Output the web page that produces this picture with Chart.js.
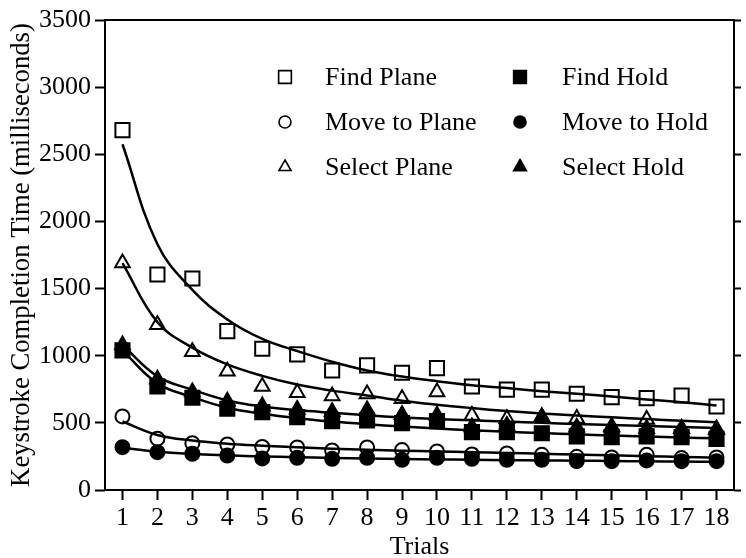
<!DOCTYPE html>
<html>
<head>
<meta charset="utf-8">
<script src="https://cdn.jsdelivr.net/npm/chart.js@4.4.1/dist/chart.umd.min.js"></script>
<style>
  html, body { margin: 0; padding: 0; background: #fff; }
  #wrap { width: 746px; height: 558px; position: relative; }
</style>
</head>
<body>
<div id="wrap"><canvas id="c" width="746" height="558"></canvas></div>
<script>
// Trial numbers along the x axis
const trials = ['1','2','3','4','5','6','7','8','9','10','11','12','13','14','15','16','17','18'];
const yTicks = [0, 500, 1000, 1500, 2000, 2500, 3000, 3500];

// Mean keystroke completion times (ms) per trial
const findPlane   = [2680, 1605, 1575, 1183, 1052, 1010, 890, 928, 873, 908, 771, 747, 747, 717, 692, 684, 704, 622];
const moveToPlane = [548, 382, 349, 339, 320, 317, 295, 317, 297, 287, 265, 272, 262, 247, 242, 262, 238, 242];
const selectPlane = [1690, 1230, 1030, 885, 770, 725, 700, 715, 680, 730, 555, 530, 543, 532, 472, 525, 458, 452];
const findHold    = [1040, 771, 687, 605, 580, 543, 513, 518, 498, 513, 431, 431, 423, 399, 394, 399, 394, 381];
const moveToHold  = [319, 282, 270, 257, 235, 240, 232, 240, 225, 240, 232, 225, 225, 215, 215, 220, 215, 215];
const selectHold  = [1080, 825, 730, 660, 625, 600, 583, 595, 560, 556, 470, 480, 543, 468, 468, 456, 456, 451];

// Fitted learning curves (ms) at each trial
const findPlaneFit   = [2575, 1830, 1490, 1270, 1125, 1035, 955, 890, 845, 810, 780, 759, 736, 717, 697, 674, 654, 630];
const selectPlaneFit = [1690, 1250, 1060, 935, 850, 785, 740, 704, 665, 635, 610, 588, 570, 555, 541, 528, 516, 505];
const selectHoldFit  = [1080, 846, 747, 667, 622, 595, 575, 556, 540, 528, 519, 510, 500, 492, 484, 476, 469, 462];
const findHoldFit    = [1040, 794, 692, 612, 568, 535, 510, 490, 473, 458, 445, 434, 424, 415, 406, 398, 391, 385];
const moveToPlaneFit = [510, 410, 368, 345, 330, 318, 308, 300, 293, 287, 282, 276, 270, 264, 258, 252, 246, 240];
const moveToHoldFit  = [315, 285, 268, 258, 250, 244, 239, 235, 231, 228, 225, 222, 220, 218, 216, 214, 212, 210];

const FONT = 'Liberation Serif, Times New Roman, serif';
const FSIZE = 26;

const markers = {
  findPlane:   { style: 'rect',     radius: 10,  legendRadius: 9,   filled: false },
  moveToPlane: { style: 'circle',   radius: 7,   legendRadius: 6,   filled: false },
  selectPlane: { style: 'triangle', radius: 8.5, legendRadius: 7,   filled: false },
  findHold:    { style: 'rect',     radius: 10,  legendRadius: 9,   filled: true },
  moveToHold:  { style: 'circle',   radius: 7,   legendRadius: 6,   filled: true },
  selectHold:  { style: 'triangle', radius: 8.5, legendRadius: 7.5, filled: true }
};

function pointSet(label, data, key) {
  const m = markers[key];
  return {
    label, data, key,
    showLine: false,
    pointStyle: m.style,
    pointRadius: m.radius,
    pointBorderWidth: 2,
    pointBorderColor: '#000',
    pointBackgroundColor: m.filled ? '#000' : 'rgba(0,0,0,0)',
    borderColor: '#000',
    backgroundColor: m.filled ? '#000' : 'rgba(0,0,0,0)'
  };
}
function fitSet(data) {
  return {
    label: '', data,
    borderColor: '#000',
    borderWidth: 2.5,
    pointRadius: 0,
    fill: false,
    tension: 0.4
  };
}

// Earlier datasets are painted last, so filled markers come first
const datasets = [
  pointSet('Find Hold', findHold, 'findHold'),
  pointSet('Move to Hold', moveToHold, 'moveToHold'),
  pointSet('Select Hold', selectHold, 'selectHold'),
  pointSet('Find Plane', findPlane, 'findPlane'),
  pointSet('Move to Plane', moveToPlane, 'moveToPlane'),
  pointSet('Select Plane', selectPlane, 'selectPlane'),
  fitSet(findPlaneFit), fitSet(selectPlaneFit), fitSet(selectHoldFit),
  fitSet(findHoldFit), fitSet(moveToPlaneFit), fitSet(moveToHoldFit)
];

// Legend: two columns of marker + label, placed inside the plot box
const legendRows = [
  ['findPlane', 'Find Plane', 'findHold', 'Find Hold'],
  ['moveToPlane', 'Move to Plane', 'moveToHold', 'Move to Hold'],
  ['selectPlane', 'Select Plane', 'selectHold', 'Select Hold']
];
const boxLegend = {
  id: 'boxLegend',
  afterDraw(chart) {
    const ctx = chart.ctx;
    const a = chart.chartArea;
    ctx.save();
    ctx.font = FSIZE + 'px ' + FONT;
    ctx.textBaseline = 'middle';
    ctx.textAlign = 'left';
    const cols = [{ mx: a.left + 180, tx: a.left + 220 }, { mx: a.left + 415, tx: a.left + 457 }];
    legendRows.forEach((row, i) => {
      const y = a.top + 57 + i * 45;
      for (let c = 0; c < 2; c++) {
        const m = markers[row[c * 2]];
        ctx.lineWidth = 1.6;
        ctx.strokeStyle = '#000';
        ctx.fillStyle = m.filled ? '#000' : 'rgba(0,0,0,0)';
        Chart.helpers.drawPoint(ctx, { pointStyle: m.style, radius: m.legendRadius, borderWidth: 1.6 }, cols[c].mx, y);
        ctx.fillStyle = '#000';
        ctx.fillText(row[c * 2 + 1], cols[c].tx, y + 1);
      }
    });
    ctx.restore();
  }
};

// Frame around the plot area
const frame = {
  id: 'frame',
  beforeDatasetsDraw(chart) {
    const a = chart.chartArea;
    const ctx = chart.ctx;
    ctx.save();
    ctx.strokeStyle = '#000';
    ctx.lineWidth = 2;
    ctx.strokeRect(a.left, a.top, a.right - a.left, a.bottom - a.top);
    ctx.restore();
  }
};

new Chart(document.getElementById('c'), {
  type: 'line',
  data: { labels: trials, datasets },
  plugins: [frame, boxLegend],
  options: {
    responsive: false,
    animation: false,
    events: [],
    layout: { padding: { top: 20, right: 0, bottom: 0, left: 0 } },
    plugins: { legend: { display: false }, tooltip: { enabled: false } },
    scales: {
      x: {
        type: 'category',
        offset: true,
        border: { display: false },
        grid: { display: true, drawOnChartArea: false, drawTicks: true, tickLength: 10, tickWidth: 2, tickColor: '#000', offset: false },
        ticks: { color: '#000', font: { family: FONT, size: FSIZE }, padding: 3, maxRotation: 0, autoSkip: false },
        title: { display: true, text: 'Trials', color: '#000', font: { family: FONT, size: FSIZE, lineHeight: 0.85 }, padding: 0 },
        afterFit(s) { s.height = 68; }
      },
      y: {
        position: 'left',
        min: 0, max: 3500,
        border: { display: false },
        afterBuildTicks(s) { s.ticks = yTicks.map(v => ({ value: v })); },
        grid: { display: true, drawOnChartArea: false, drawTicks: true, tickLength: 10, tickWidth: 2, tickColor: '#000' },
        ticks: { color: '#000', font: { family: FONT, size: FSIZE }, padding: 4, callback: v => String(v) },
        title: { display: true, text: 'Keystroke Completion Time (milliseconds)', color: '#000', font: { family: FONT, size: 26.7, lineHeight: 1.2 }, padding: { top: 6, bottom: 0 } },
        afterFit(s) { s.width = 105; }
      },
      y2: {
        position: 'right',
        min: 0, max: 3500,
        border: { display: false },
        afterBuildTicks(s) { s.ticks = yTicks.map(v => ({ value: v })); },
        grid: { display: true, drawOnChartArea: false, drawTicks: true, tickLength: 7, tickWidth: 2, tickColor: '#000' },
        ticks: { display: false },
        afterFit(s) { s.width = 7; }
      }
    }
  }
});
</script>
</body>
</html>
